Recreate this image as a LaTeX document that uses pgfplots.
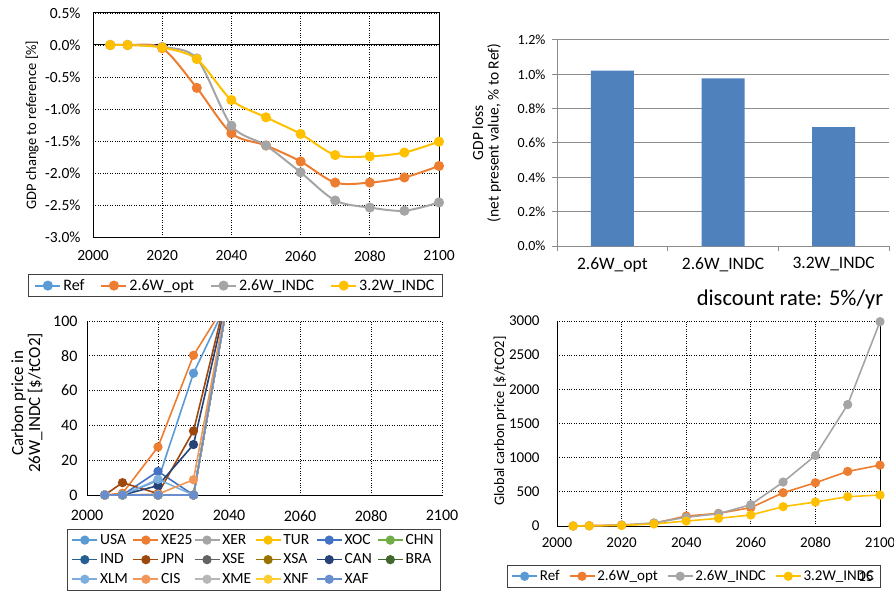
\documentclass[border=0pt]{standalone}
\usepackage{pgfplots}
\pgfplotsset{compat=1.18}
\usepackage{fontspec}
\setmainfont{Carlito}
\definecolor{c1}{HTML}{5B9BD5}
\definecolor{c2}{HTML}{ED7D31}
\definecolor{c3}{HTML}{A5A5A5}
\definecolor{c4}{HTML}{FFC000}
\definecolor{c5}{HTML}{4472C4}
\definecolor{c6}{HTML}{70AD47}
\definecolor{c7}{HTML}{255E91}
\definecolor{c8}{HTML}{9E480E}
\definecolor{c9}{HTML}{636363}
\definecolor{c10}{HTML}{997300}
\definecolor{c11}{HTML}{264478}
\definecolor{c12}{HTML}{43682B}
\definecolor{c13}{HTML}{7CAFDD}
\definecolor{c14}{HTML}{F1975A}
\definecolor{c15}{HTML}{B7B7B7}
\definecolor{c16}{HTML}{FFCD33}
\definecolor{c17}{HTML}{698ED0}
\definecolor{barblue}{HTML}{4F81BD}
\pgfplotsset{
  every axis/.append style={scale only axis, anchor=south west,
    /pgf/number format/assume math mode=true, /pgf/number format/1000 sep={}},
  ln/.style={color=#1, line width=2pt, mark=*, mark size=4pt, mark options={solid, fill=#1}},
  lns/.style={color=#1, line width=1.6pt, mark=*, mark size=3.8pt, mark options={solid, fill=#1}},
  legend image code/.code={\draw[#1, mark indices={2}] plot coordinates {(0pt,0pt) (12.5pt,0pt) (25pt,0pt)};},
}
\newcommand{\fs}[1]{\fontsize{#1}{#1}\selectfont}
\begin{document}
\begin{tikzpicture}
\useasboundingbox (0,0) rectangle (894pt,590pt);
% ---------- Panel 1 ----------
\begin{axis}[at={(93pt,353pt)}, width=346pt, height=224pt,
  xmin=2000, xmax=2100, ymin=-3, ymax=0.5,
  xtick={2000,2020,2040,2060,2080,2100},
  ytick={-3,-2.5,-2,-1.5,-1,-0.5,0,0.5},
  yticklabel={\pgfmathprintnumber[fixed,fixed zerofill,precision=1]{\tick}\%},
  grid=major, major grid style={dotted, black, line width=0.9pt},
  axis line style={black, line width=1pt},
  major tick length=0pt,
  ticklabel style={font=\fs{15.5}},
  yticklabel style={xshift=-9pt},
  xticklabel style={yshift=-10pt},
  extra y ticks={0}, extra y tick labels={},
  extra y tick style={grid=major, major grid style={solid, black, line width=1pt}},
  ylabel={GDP change to reference [\%]},
  ylabel style={font=\fs{14.5}, at={(axis description cs:-0.176,0.5)}, anchor=center},
  legend columns=4,
  legend style={at={(axis description cs:-0.188,-0.165)}, anchor=north west,
    draw=black!75, line width=0.8pt, font=\fs{16}, inner xsep=6pt, inner ysep=3pt,
    /tikz/every even column/.append style={column sep=14pt}},
]
\addlegendimage{ln=c1}\addlegendentry{Ref}
\addplot[ln=c2, smooth] coordinates {(2005,0) (2010,0) (2020,-0.05) (2030,-0.67) (2040,-1.38) (2050,-1.57) (2060,-1.82) (2070,-2.15) (2080,-2.15) (2090,-2.07) (2100,-1.89)};
\addlegendentry{2.6W\_opt}
\addplot[ln=c3, smooth] coordinates {(2005,0) (2010,0) (2020,-0.03) (2030,-0.21) (2040,-1.26) (2050,-1.57) (2060,-1.99) (2070,-2.43) (2080,-2.54) (2090,-2.59) (2100,-2.46)};
\addlegendentry{2.6W\_INDC}
\addplot[ln=c4, smooth] coordinates {(2005,0) (2010,0) (2020,-0.04) (2030,-0.22) (2040,-0.86) (2050,-1.13) (2060,-1.39) (2070,-1.72) (2080,-1.74) (2090,-1.68) (2100,-1.51)};
\addlegendentry{3.2W\_INDC}
\end{axis}
% ---------- Panel 2 ----------
\begin{axis}[at={(557pt,344pt)}, width=332pt, height=206pt,
  ybar, bar width=43pt,
  xmin=-0.5, xmax=2.5, ymin=0, ymax=1.2,
  xtick={-0.5,0.5,1.5,2.5}, xticklabels={},
  extra x ticks={0,1,2}, extra x tick labels={2.6W\_opt,2.6W\_INDC,3.2W\_INDC},
  extra x tick style={major tick length=0pt, xticklabel style={font=\fs{17.5}, yshift=-8pt}},
  ytick={0,0.2,0.4,0.6,0.8,1.0,1.2},
  yticklabel={\pgfmathprintnumber[fixed,fixed zerofill,precision=1]{\tick}\%},
  yticklabel style={font=\fs{14}, xshift=-3pt},
  ymajorgrids, major grid style={black!45, line width=1pt},
  axis x line*=bottom, axis y line*=left,
  axis line style={black!45, line width=1pt},
  tick style={black!45, line width=1pt}, tick align=outside, major tick length=5pt,
  ylabel={GDP loss\\(net present value, \% to Ref)},
  ylabel style={font=\fs{15.5}, align=center, at={(axis description cs:-0.212,0.549)}, anchor=center},
]
\addplot[fill=barblue, draw=none] coordinates {(0,1.022) (1,0.977) (2,0.692)};
\end{axis}
\node[font=\fs{22.5}, anchor=center] at (790pt,290pt) {discount rate: 5\%/yr};
% ---------- Panel 3 ----------
\begin{axis}[at={(87pt,95pt)}, width=355pt, height=174pt,
  xmin=2000, xmax=2100, ymin=0, ymax=100,
  xtick={2000,2020,2040,2060,2080,2100},
  ytick={0,20,40,60,80,100},
  grid=major, major grid style={dotted, black, line width=0.9pt},
  axis x line*=bottom, axis y line*=left,
  axis line style={black, line width=1pt},
  major tick length=0pt,
  ticklabel style={font=\fs{16}},
  yticklabel style={xshift=-6pt},
  xticklabel style={yshift=-12pt},
  ylabel={Carbon price in\\26W\_INDC [\$/tCO2]},
  ylabel style={font=\fs{17}, align=center, at={(axis description cs:-0.169,0.529)}, anchor=center},
  legend columns=6,
  legend style={at={(axis description cs:-0.056,-0.195)}, anchor=north west,
    draw=black!75, line width=0.8pt, font=\fs{15.5}, inner xsep=4pt, inner ysep=3pt,
    row sep=4pt,
    /tikz/every even column/.append style={column sep=2pt}},
  every axis plot/.append style={mark indices={1,2,3,4}},
]
\addplot[lns=c1] coordinates {(2005,0) (2010,0) (2020,8.4) (2030,70) (2040,113)};
\addlegendentry{\makebox[28.5pt][l]{USA}}
\addplot[lns=c2] coordinates {(2005,0) (2010,1) (2020,27.6) (2030,80.3) (2040,113)};
\addlegendentry{\makebox[28.5pt][l]{XE25}}
\addplot[lns=c3] coordinates {(2005,0) (2010,0) (2020,0) (2030,0) (2040,116)};
\addlegendentry{\makebox[28.5pt][l]{XER}}
\addplot[lns=c4] coordinates {(2005,0) (2010,0) (2020,0) (2030,0) (2040,116)};
\addlegendentry{\makebox[28.5pt][l]{TUR}}
\addplot[lns=c5] coordinates {(2005,0) (2010,0) (2020,13.6) (2030,0) (2040,116)};
\addlegendentry{\makebox[28.5pt][l]{XOC}}
\addplot[lns=c6] coordinates {(2005,0) (2010,0) (2020,0) (2030,0) (2040,116)};
\addlegendentry{\makebox[28.5pt][l]{CHN}}
\addplot[lns=c7] coordinates {(2005,0) (2010,0) (2020,0) (2030,0) (2040,116)};
\addlegendentry{\makebox[28.5pt][l]{IND}}
\addplot[lns=c8] coordinates {(2005,0) (2010,7.1) (2020,0.8) (2030,36.8) (2040,121)};
\addlegendentry{\makebox[28.5pt][l]{JPN}}
\addplot[lns=c9] coordinates {(2005,0) (2010,0) (2020,0) (2030,0) (2040,116)};
\addlegendentry{\makebox[28.5pt][l]{XSE}}
\addplot[lns=c10] coordinates {(2005,0) (2010,0) (2020,0) (2030,0) (2040,116)};
\addlegendentry{\makebox[28.5pt][l]{XSA}}
\addplot[lns=c11] coordinates {(2005,0) (2010,0) (2020,5.4) (2030,29) (2040,118)};
\addlegendentry{\makebox[28.5pt][l]{CAN}}
\addplot[lns=c12] coordinates {(2005,0) (2010,0) (2020,0) (2030,0) (2040,116)};
\addlegendentry{\makebox[28.5pt][l]{BRA}}
\addplot[lns=c13] coordinates {(2005,0) (2010,0) (2020,9) (2030,0) (2040,116)};
\addlegendentry{\makebox[28.5pt][l]{XLM}}
\addplot[lns=c14] coordinates {(2005,0) (2010,0) (2020,0.5) (2030,8.8) (2040,119)};
\addlegendentry{\makebox[28.5pt][l]{CIS}}
\addplot[lns=c15] coordinates {(2005,0) (2010,0) (2020,0) (2030,0) (2040,116)};
\addlegendentry{\makebox[28.5pt][l]{XME}}
\addplot[lns=c16] coordinates {(2005,0) (2010,0) (2020,0) (2030,0) (2040,116)};
\addlegendentry{\makebox[28.5pt][l]{XNF}}
\addplot[lns=c17] coordinates {(2005,0) (2010,0) (2020,0) (2030,0) (2040,116)};
\addlegendentry{\makebox[28.5pt][l]{XAF}}
\end{axis}
% ---------- Panel 4 ----------
\begin{axis}[at={(557pt,64pt)}, width=323pt, height=205pt,
  xmin=2000, xmax=2100, ymin=0, ymax=3000,
  xtick={2000,2020,2040,2060,2080,2100},
  ytick={0,500,1000,1500,2000,2500,3000},
  grid=major, major grid style={dotted, black, line width=0.9pt},
  axis x line*=bottom, axis y line*=left,
  axis line style={black, line width=1pt},
  major tick length=0pt,
  extra x ticks={2100}, extra x tick labels={},
  extra x tick style={grid=major, major grid style={solid, black, line width=1pt}},
  ticklabel style={font=\fs{15}},
  yticklabel style={xshift=-14pt},
  xticklabel style={yshift=-8pt},
  ylabel={Global carbon price [\$/tCO2]},
  ylabel style={font=\fs{14.5}, at={(axis description cs:-0.176,0.512)}, anchor=center},
  legend columns=4,
  legend style={at={(axis description cs:-0.155,-0.19)}, anchor=north west,
    draw=black!75, line width=0.8pt, font=\fs{15}, inner xsep=4pt, inner ysep=3pt,
    /tikz/every even column/.append style={column sep=7pt}},
]
\addlegendimage{lns=c1}\addlegendentry{Ref}
\addplot[lns=c2] coordinates {(2005,0) (2010,5) (2020,15) (2030,40) (2040,146) (2050,185) (2060,268) (2070,487) (2080,633) (2090,799) (2100,891)};
\addlegendentry{2.6W\_opt}
\addplot[lns=c3] coordinates {(2005,0) (2010,3) (2020,12) (2030,45) (2040,127) (2050,180) (2060,312) (2070,643) (2080,1032) (2090,1777) (2100,2990)};
\addlegendentry{2.6W\_INDC}
\addplot[lns=c4] coordinates {(2005,0) (2010,2) (2020,8) (2030,30) (2040,73) (2050,112) (2060,161) (2070,283) (2080,351) (2090,429) (2100,453)};
\addlegendentry{3.2W\_INDC}
\end{axis}
\node[font=\fs{15}, anchor=center] at (866pt,13pt) {15};
\end{tikzpicture}
\end{document}
